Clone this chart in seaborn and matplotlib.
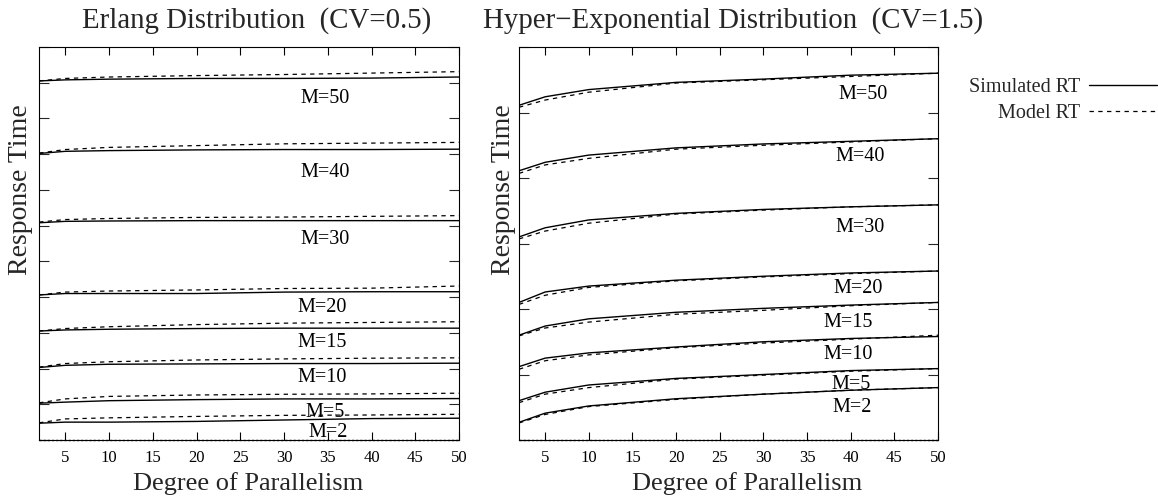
import numpy as np
import pandas as pd
import matplotlib
matplotlib.use("Agg")
import matplotlib.pyplot as plt
import seaborn as sns

# ---------------- data ----------------
parallelism = [2, 5, 10, 20, 30, 40, 50]
m_values = [50, 40, 30, 20, 15, 10, 5, 2]

# Erlang distribution (CV=0.5)
erlang_sim = {
    50: [100.5, 100.8, 101.0, 101.2, 101.2, 101.3, 101.6],
    40: [80.2, 80.8, 81.0, 81.2, 81.3, 81.3, 81.4],
    30: [60.8, 61.2, 61.3, 61.4, 61.4, 61.4, 61.4],
    20: [40.6, 41.0, 41.0, 41.0, 41.4, 41.5, 41.5],
    15: [30.5, 30.8, 31.0, 31.2, 31.3, 31.3, 31.3],
    10: [20.3, 20.9, 21.2, 21.3, 21.4, 21.4, 21.5],
    5: [10.3, 10.6, 11.0, 11.3, 11.5, 11.5, 11.6],
    2: [4.7, 5.0, 5.0, 5.2, 5.6, 6.0, 6.1],
}
erlang_model = {
    50: [100.5, 101.2, 101.6, 102.0, 102.3, 102.7, 103.1],
    40: [80.3, 81.3, 81.9, 82.4, 82.9, 83.1, 83.3],
    30: [61.0, 61.7, 62.0, 62.3, 62.4, 62.6, 62.8],
    20: [40.6, 41.4, 41.7, 42.0, 42.4, 42.5, 43.1],
    15: [30.5, 31.2, 31.7, 32.3, 32.7, 32.9, 33.1],
    10: [20.4, 21.4, 21.9, 22.4, 22.7, 22.9, 23.0],
    5: [10.4, 11.5, 12.2, 12.6, 12.8, 12.9, 13.1],
    2: [4.8, 5.9, 6.2, 6.6, 6.9, 7.0, 7.2],
}

# Hyper-exponential distribution (CV=1.5)
hyper_sim = {
    50: [51.1, 52.4, 53.5, 54.6, 55.1, 55.7, 56.0],
    40: [41.1, 42.4, 43.5, 44.6, 45.2, 45.6, 46.0],
    30: [31.0, 32.4, 33.6, 34.6, 35.2, 35.6, 35.9],
    20: [21.0, 22.6, 23.5, 24.4, 25.0, 25.5, 25.8],
    15: [16.0, 17.4, 18.5, 19.5, 20.1, 20.6, 21.0],
    10: [11.2, 12.5, 13.3, 14.2, 15.0, 15.5, 15.8],
    5: [6.0, 7.3, 8.4, 9.4, 10.0, 10.6, 10.9],
    2: [2.7, 4.1, 5.2, 6.3, 7.0, 7.6, 8.0],
}
hyper_model = {
    50: [50.8, 51.9, 53.1, 54.5, 55.0, 55.5, 56.0],
    40: [40.7, 42.0, 43.0, 44.4, 45.0, 45.5, 46.0],
    30: [30.7, 31.9, 33.1, 34.5, 35.1, 35.6, 35.9],
    20: [20.7, 22.1, 23.3, 24.3, 24.9, 25.4, 25.8],
    15: [15.9, 17.1, 18.0, 19.2, 19.8, 20.5, 21.0],
    10: [10.8, 12.1, 13.0, 14.1, 14.8, 15.4, 16.0],
    5: [5.7, 7.0, 8.0, 9.3, 9.9, 10.5, 10.9],
    2: [2.6, 3.9, 5.1, 6.2, 7.0, 7.6, 8.0],
}

x_ticks = [5, 10, 15, 20, 25, 30, 35, 40, 45, 50]
titles = ["Erlang Distribution  (CV=0.5)", "Hyper\u2212Exponential Distribution  (CV=1.5)"]
xlabel = "Degree of Parallelism"
ylabel = "Response Time"
legend_labels = ["Simulated RT", "Model RT"]

# label anchor positions (layout, in data coords)
erlang_label_pos = {50: (34.7, 95.7), 40: (34.7, 75.0), 30: (34.7, 56.0), 20: (34.3, 37.2),
                    15: (34.3, 27.4), 10: (34.3, 17.4), 5: (34.7, 7.8), 2: (35.0, 2.0)}
hyper_label_pos = {50: (41.4, 52.7), 40: (41.1, 43.3), 30: (41.1, 32.5), 20: (40.8, 23.2),
                   15: (39.7, 17.9), 10: (39.7, 13.1), 5: (40.0, 8.5), 2: (40.2, 5.0)}

# ---------------- style ----------------
sns.set_theme(style="white")
plt.rcParams["font.family"] = ["Liberation Serif", "DejaVu Serif"]
plt.rcParams["axes.linewidth"] = 0.8

W, H = 1158, 499
fig = plt.figure(figsize=(W / 100, H / 100), dpi=100)

def px_ax(x0, y0, x1, y1):
    return fig.add_axes([x0 / W, 1 - y1 / H, (x1 - x0) / W, (y1 - y0) / H])

ax_left = px_ax(39, 47, 459, 440)
ax_right = px_ax(519, 47, 938, 440)

DASH = (0, (3.5, 3.5))

def build_df(sim, model):
    rows = []
    for m in m_values:
        for x, s, d in zip(parallelism, sim[m], model[m]):
            rows.append({"P": x, "RT": s, "M": m, "kind": "Simulated RT"})
            rows.append({"P": x, "RT": d, "M": m, "kind": "Model RT"})
    return pd.DataFrame(rows)

def draw(ax, sim, model, ylim, yticks, label_pos):
    df = build_df(sim, model)
    for m in m_values:
        sub = df[df["M"] == m]
        sns.lineplot(data=sub[sub["kind"] == "Simulated RT"], x="P", y="RT", ax=ax,
                     color="black", lw=1.0, legend=False, errorbar=None)
        sns.lineplot(data=sub[sub["kind"] == "Model RT"], x="P", y="RT", ax=ax,
                     color="black", lw=0.9, linestyle=DASH, legend=False, errorbar=None)
        lx, ly = label_pos[m]
        ax.text(lx, ly, f"M={m}", ha="center", va="center", fontsize=14.5, color="black")
    # baseline at zero (drawn dashed as in the original)
    ax.axhline(0, color="black", lw=1.0, linestyle=(0, (1.5, 1.5)), clip_on=False)
    ax.set_xlim(2, 50)
    ax.set_ylim(*ylim)
    ax.set_xticks(x_ticks)
    ax.set_yticks(yticks)
    ax.set_yticklabels([])
    ax.tick_params(axis="x", direction="in", length=5.5, width=0.8, top=True, bottom=True,
                   labelsize=12, pad=7, colors="black")
    ax.tick_params(axis="y", direction="in", length=7, width=0.8, left=True, right=True)
    ax.set_xlabel("")
    ax.set_ylabel("")
    for sp in ax.spines.values():
        sp.set_color("black")
        sp.set_linewidth(0.8)

draw(ax_left, erlang_sim, erlang_model, (0, 110), np.arange(0, 111, 10), erlang_label_pos)
draw(ax_right, hyper_sim, hyper_model, (0, 60), np.arange(0, 61, 10), hyper_label_pos)

def ftext(x, y, s, **kw):
    fig.text(x / W, 1 - y / H, s, **kw)

ftext(82, 28, titles[0], ha="left", va="baseline", fontsize=20.8)
ftext(483, 28, titles[1], ha="left", va="baseline", fontsize=20.8)
ftext(248, 490, xlabel, ha="center", va="baseline", fontsize=19)
ftext(747, 490, xlabel, ha="center", va="baseline", fontsize=19)
ftext(21, 190, ylabel, ha="center", va="center", rotation=90, fontsize=20)
ftext(504, 190, ylabel, ha="center", va="center", rotation=90, fontsize=20)

handles = [plt.Line2D([], [], color="black", lw=1.0),
           plt.Line2D([], [], color="black", lw=0.9, linestyle=DASH)]
fig.legend(handles, legend_labels, loc="upper right", bbox_to_anchor=(1157 / W, 1 - 78 / H),
           frameon=False, markerfirst=False, fontsize=14.5, handlelength=3.4,
           handletextpad=0.4, labelspacing=0.35, borderpad=0, borderaxespad=0)

fig.savefig("out.png", dpi=100, facecolor="white")
